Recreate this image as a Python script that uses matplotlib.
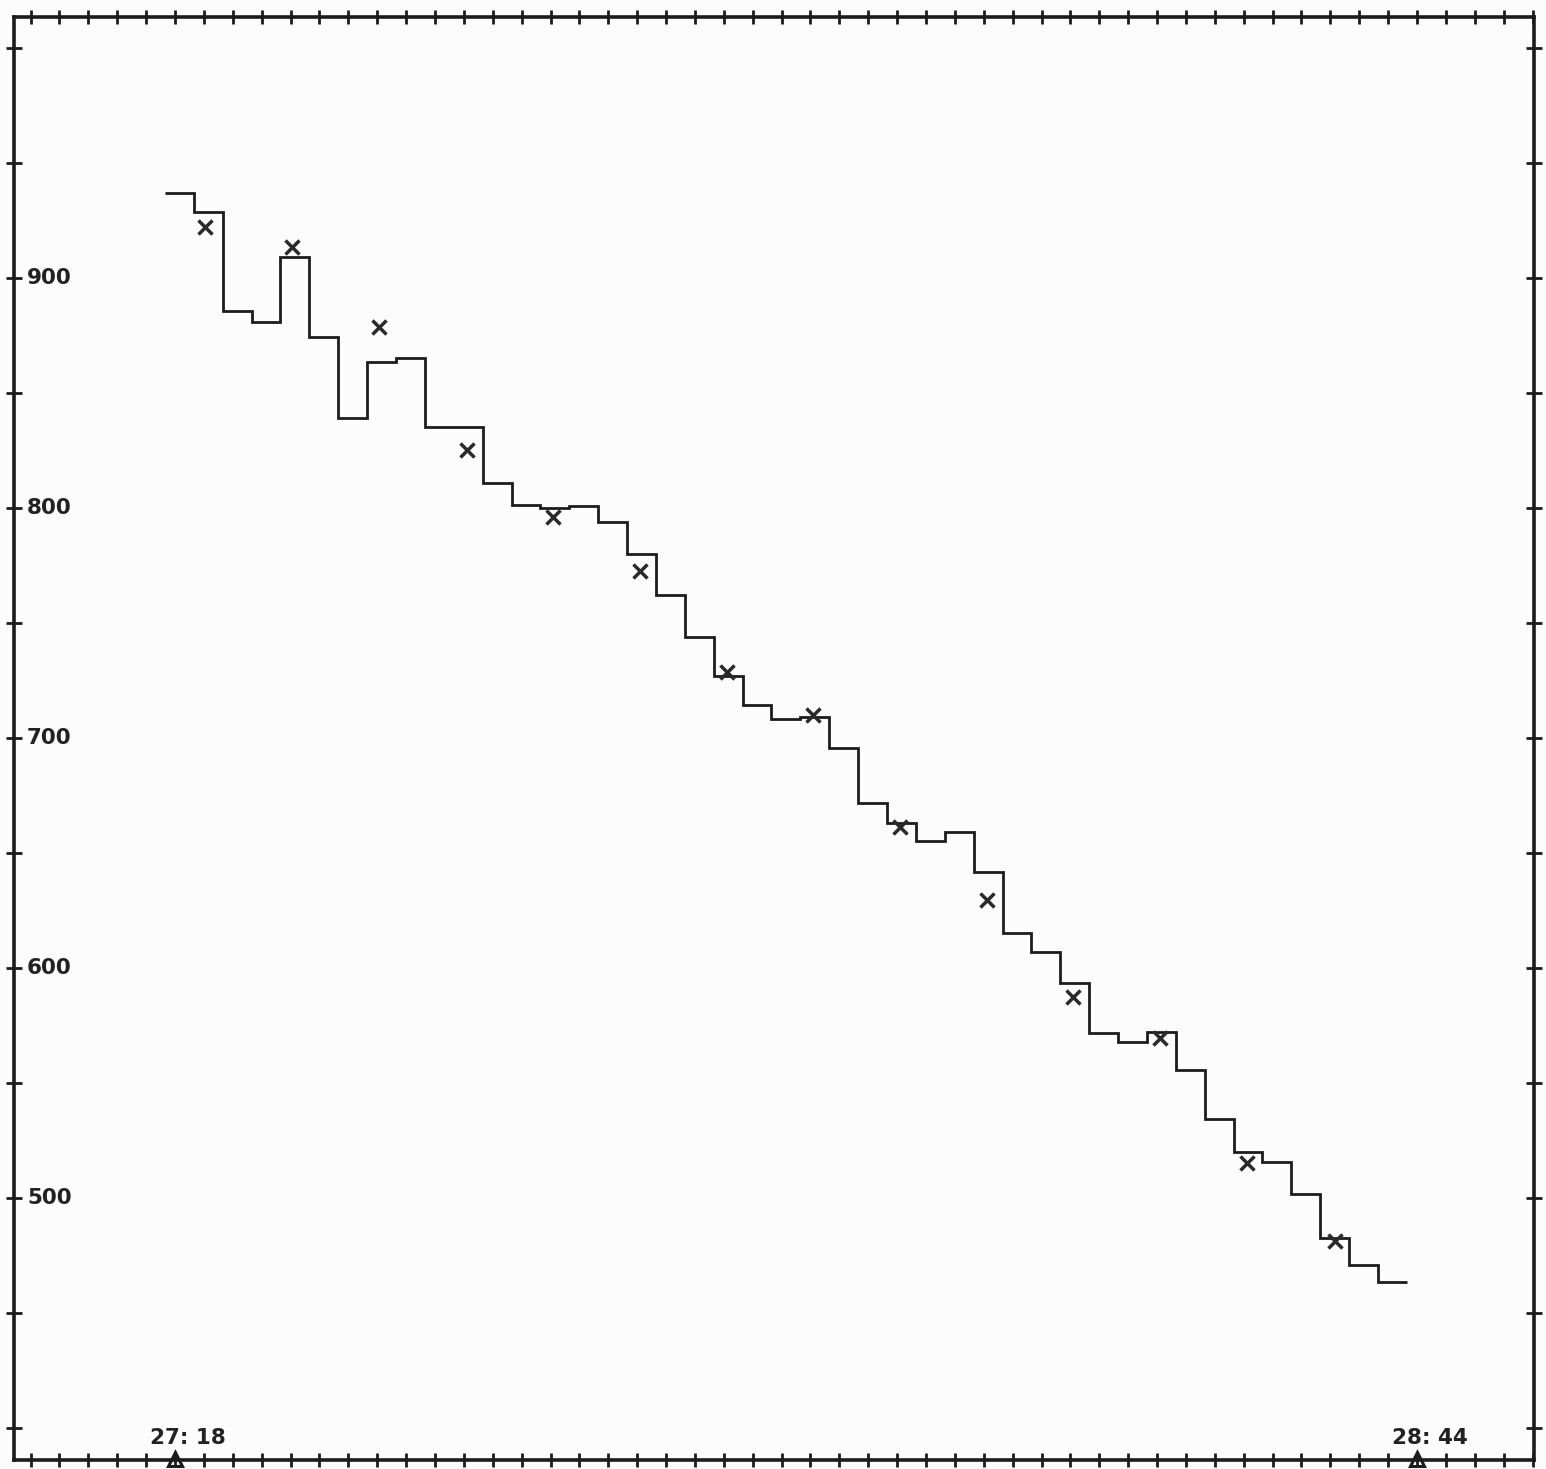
#!/usr/bin/env python3
# -*- coding: utf-8 -*-

import matplotlib

matplotlib.use("Agg")
import matplotlib.pyplot as plt
import matplotlib.transforms as mtransforms
import numpy as np

OUTPUT_SAVE_PATH = "out.png"

# time axis in minutes after 27:18, one bin every 2 minutes
BIN_START = -0.7
BIN_WIDTH = 2.0

# binned series (step curve), one value per bin
BIN_VALUES = [
    937.1, 928.9, 885.7, 881.0, 909.0, 874.5, 839.3, 863.6, 865.1, 835.1,
    835.1, 810.7, 801.3, 799.9, 800.9, 794.1, 780.0, 762.2, 743.8, 727.0,
    714.3, 708.1, 709.0, 695.8, 671.9, 663.2, 655.2, 659.0, 641.9, 615.1,
    606.8, 593.3, 571.9, 567.9, 572.3, 555.4, 534.2, 520.1, 515.5, 501.7,
    482.5, 470.9, 463.2,
]

# point measurements (crosses)
POINT_TIMES = [2.1, 8.1, 14.1, 20.2, 26.2, 32.2, 38.2, 44.2, 50.2, 56.2, 62.2, 68.2, 74.2, 80.3]
POINT_VALUES = [922.0, 913.6, 878.8, 825.3, 796.2, 772.7, 728.8, 710.0, 661.4, 629.6, 587.3, 569.4, 515.3, 481.4]

# time marks on the bottom axis
MARK_TIMES = [0, 86]
MARK_LABELS = ["27: 18", "28: 44"]

Y_LABELS = [500, 600, 700, 800, 900]

INK = "#1c1c1c"
PAPER = "#fcfcfc"


def draw_chart():
    fig = plt.figure(figsize=(15.46, 14.69), dpi=100, facecolor=PAPER)
    ax = fig.add_axes([14 / 1546, 1 - 1460 / 1469, 1520 / 1546, 1443 / 1469])
    ax.set_facecolor(PAPER)

    edges = BIN_START + BIN_WIDTH * np.arange(len(BIN_VALUES) + 1)
    ax.stairs(BIN_VALUES, edges, baseline=None, color=INK, linewidth=2.0)

    ax.plot(POINT_TIMES, POINT_VALUES, linestyle="none", marker="x",
            markersize=9.5, markeredgewidth=2.5, color="#2a2a2a")

    ax.set_xlim(-11.15, 94.1)
    ax.set_ylim(386.0, 1013.5)

    # frame with crossing ticks on all four sides
    for side in ax.spines.values():
        side.set_linewidth(2.6)
        side.set_color(INK)
    ax.set_xticks(np.arange(-10, 95, 2))
    ax.set_yticks(np.arange(400, 1001, 50))
    ax.tick_params(axis="x", direction="inout", length=10, width=2.0, color=INK,
                   top=True, bottom=True, labelbottom=False, labeltop=False)
    ax.tick_params(axis="y", direction="inout", length=12, width=2.0, color=INK,
                   left=True, right=True, labelleft=False, labelright=False)

    # y labels sit inside the frame, just right of the ticks
    ytrans = mtransforms.blended_transform_factory(ax.transAxes, ax.transData)
    for val in Y_LABELS:
        ax.text(0.0085, val, str(val), transform=ytrans, ha="left", va="center",
                fontsize=15.5, fontweight="bold", color="#222222")

    # open triangles with their time stamps on the bottom axis
    xtrans = mtransforms.blended_transform_factory(ax.transData, ax.transAxes)
    ax.plot(MARK_TIMES, [0.001, 0.001], transform=xtrans, linestyle="none", marker="^",
            markersize=10, markerfacecolor="none", markeredgewidth=2.2,
            color=INK, clip_on=False, zorder=5)
    for t, lab in zip(MARK_TIMES, MARK_LABELS):
        ax.text(t + 0.9, 0.0085, lab, transform=xtrans, ha="center", va="bottom",
                fontsize=15.5, fontweight="bold", color="#222222")

    fig.savefig(OUTPUT_SAVE_PATH, dpi=100, facecolor=PAPER)
    plt.close(fig)


if __name__ == "__main__":
    draw_chart()
